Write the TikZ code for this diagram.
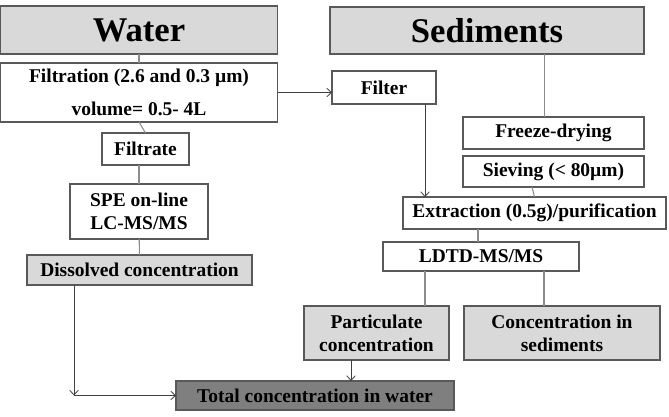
\documentclass[tikz,border=0pt]{standalone}
\usepackage{fontspec}
\setmainfont{Liberation Serif}
\usepackage{tikz}
\usetikzlibrary{arrows.meta}
\newcommand{\boxfont}{\bfseries\fontsize{14.6}{17.3}\selectfont}
\newcommand{\headfont}{\bfseries\fontsize{26}{30}\selectfont}
\definecolor{BoxLine}{HTML}{595959}
\definecolor{LinkGray}{HTML}{8C8C8C}
\definecolor{ArrowGray}{HTML}{404040}
\definecolor{HeadGray}{HTML}{D9D9D9}
\definecolor{ResultGray}{HTML}{D9D9D9}
\definecolor{TotalGray}{HTML}{7F7F7F}

\begin{document}
\begin{tikzpicture}[
  x=0.75pt, y=-0.75pt,
  block/.style={rectangle, draw=BoxLine, fill=white, line width=0.8pt,
    inner sep=0pt, outer sep=0pt, align=center, font=\boxfont},
  heading/.style={block, fill=HeadGray, font=\headfont},
  result/.style={block, fill=ResultGray},
  boxsize/.style 2 args={minimum width=#1*0.75pt, minimum height=#2*0.75pt},
  link/.style={draw=LinkGray, line width=0.8pt},
  arrow/.style={-{Straight Barb[length=3.5pt,width=6.5pt]}, draw=ArrowGray, line width=0.6pt}
]
\useasboundingbox (0,0) rectangle (669,417);

% water column
\node (w0) [heading, boxsize={277}{48}] at (139,30) {Water};
\node (w1) [block, boxsize={277}{59}] at (139,92.5) {Filtration (2.6 and 0.3 µm)\\[7.5pt] volume= 0.5- 4L};
\node (w2) [block, boxsize={87}{32}] at (145.5,149) {Filtrate};
\node (w3) [block, boxsize={138}{55}] at (139,211.5) {SPE on-line\\LC-MS/MS};
\node (w4) [result, boxsize={225}{30}] at (139.5,270) {Dissolved concentration};

% sediments column
\node (s0) [heading, boxsize={314}{47}] at (487,30.5) {Sediments};
\node (s1) [block, boxsize={104}{33}] at (384,87.5) {Filter};
\node (s2) [block, boxsize={181}{32}] at (553.5,133) {Freeze-drying};
\node (s3) [block, boxsize={181}{31}] at (553.5,171.5) {Sieving (< 80µm)};
\node (s4) [block, boxsize={263}{32}] at (534.5,213) {Extraction (0.5g)/purification};
\node (s5) [block, boxsize={196}{29}] at (481,256.5) {LDTD-MS/MS};
\node (s6) [result, boxsize={145}{54}] at (376.5,333) {Particulate\\concentration};
\node (s7) [result, boxsize={196}{54}] at (562,333) {Concentration in\\sediments};

\node (t0) [block, fill=TotalGray, boxsize={278}{29}] at (315,395.5) {Total concentration in water};
\coordinate (c0) at (74,395.5);

\draw[link] (w0) -- (w1);
\draw[arrow] (w1.east) -- (w1.east -| s1.west);
\draw[link] (w1.south) -- (w2.north);
\draw[link] (w3.north) -- (w3.north |- w2.south);
\draw[link] (w3) -- (w4);
\draw[arrow] (w4.south -| c0) -- (c0);
\draw[arrow] (c0) -- (t0.west);

\draw[link] ([xshift=-7.1pt]s2.north) -- ([xshift=-7.1pt]s2.north |- s0.south);
\draw[link] ([xshift=-16.1pt]s3.south) -- (s4.north);
\draw[arrow] ([xshift=30.75pt]s1.south) -- ([xshift=30.75pt]s1.south |- s4.north);
\draw[link] ([xshift=-2.25pt]s5.north) -- ([xshift=-2.25pt]s5.north |- s4.south);
\draw[link] ([xshift=-42pt]s5.south) -- ([xshift=-42pt]s5.south |- s6.north);
\draw[link] ([xshift=47.25pt]s5.south) -- ([xshift=47.25pt]s5.south |- s7.north);
\draw[arrow] ([xshift=-19.1pt]s6.south) -- ([xshift=-19.1pt]s6.south |- t0.north);
\end{tikzpicture}
\end{document}
